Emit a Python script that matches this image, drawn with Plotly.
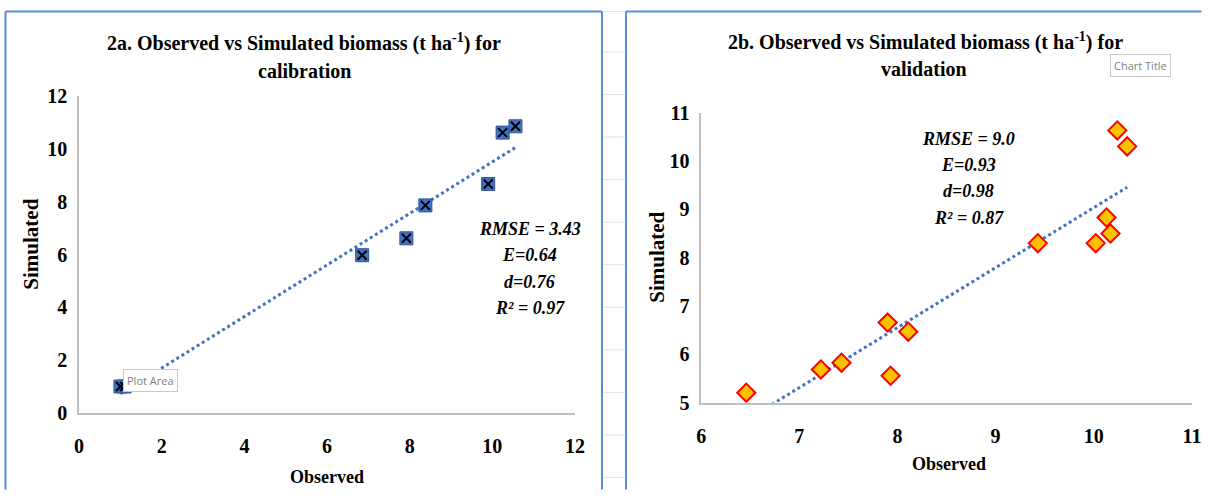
import numpy as np
import plotly.graph_objects as go

# ---- data ----
cal_observed = [1.0, 1.1, 6.85, 7.92, 8.38, 9.9, 10.25, 10.56]
cal_simulated = [1.0, 1.0, 5.98, 6.62, 7.87, 8.68, 10.63, 10.87]

val_observed = [6.46, 7.22, 7.43, 7.90, 7.93, 8.11, 9.43, 10.02, 10.13, 10.17, 10.24, 10.34]
val_simulated = [5.21, 5.69, 5.83, 6.66, 5.56, 6.47, 8.30, 8.30, 8.83, 8.50, 10.63, 10.30]

cal_stats = ["RMSE = 3.43", "E=0.64", "d=0.76", "R² = 0.97"]
val_stats = ["RMSE = 9.0", "E=0.93", "d=0.98", "R² = 0.87"]

cal_ticks = [0, 2, 4, 6, 8, 10, 12]
val_xticks = [6, 7, 8, 9, 10, 11]
val_yticks = [5, 6, 7, 8, 9, 10, 11]

W, H = 1212, 501
# empirical mapping from target picture pixels to figure pixels
SX, OXP, SY, OYP = 0.986, 6.0, 0.955, 11.6
SERIF = "Liberation Serif, Times New Roman, serif"
BLUE = "#4472c4"

def fx(X):
    return min(max((X - OXP) / SX, 0.5), W - 0.5)

def fy(Y):
    return min(max((Y - OYP) / SY, 0.5), H - 0.5)

def px(X):
    return fx(X) / W

def py(Y):
    return 1 - fy(Y) / H

fig = go.Figure()

# trendlines (least squares)
def trend(xs, ys):
    m, b = np.polyfit(xs, ys, 1)
    xx = np.array([min(xs), max(xs)])
    return xx, m * xx + b

tx, ty = trend(cal_observed, cal_simulated)
fig.add_trace(go.Scatter(x=tx, y=ty, mode="lines", xaxis="x", yaxis="y",
                         line=dict(color=BLUE, width=3, dash="dot"), showlegend=False))
tx2, ty2 = trend(val_observed, val_simulated)
fig.add_trace(go.Scatter(x=tx2, y=ty2, mode="lines", xaxis="x2", yaxis="y2",
                         line=dict(color=BLUE, width=3, dash="dot"), showlegend=False))

# calibration markers: blue square with black x
fig.add_trace(go.Scatter(x=cal_observed, y=cal_simulated, mode="markers", xaxis="x", yaxis="y",
                         marker=dict(symbol="square", size=13, color=BLUE,
                                     line=dict(color="#2f5597", width=1)),
                         showlegend=False))
fig.add_trace(go.Scatter(x=cal_observed, y=cal_simulated, mode="markers", xaxis="x", yaxis="y",
                         marker=dict(symbol="x-thin", size=9, color="black",
                                     line=dict(color="black", width=2)),
                         showlegend=False))

# validation markers: gold diamonds with red edge
fig.add_trace(go.Scatter(x=val_observed, y=val_simulated, mode="markers", xaxis="x2", yaxis="y2",
                         marker=dict(symbol="diamond", size=14, color="#ffc000",
                                     line=dict(color="#ff0000", width=2)),
                         showlegend=False))

axis_common = dict(showgrid=False, zeroline=False, showline=True, linecolor="#bfbfbf",
                   linewidth=1.5, ticks="", fixedrange=True,
                   tickfont=dict(family=SERIF, size=20, color="black", weight="bold"))

fig.update_layout(
    width=W, height=H,
    margin=dict(l=0, r=0, t=0, b=0),
    paper_bgcolor="white", plot_bgcolor="rgba(0,0,0,0)",
    xaxis=dict(domain=[px(80), px(575)], range=[0, 12], tickvals=cal_ticks,
               anchor="y", ticklabelstandoff=14, **axis_common),
    yaxis=dict(domain=[py(413), py(97)], range=[0, 12], tickvals=cal_ticks,
               anchor="x", ticklabelstandoff=6, **axis_common),
    xaxis2=dict(domain=[px(701), px(1191)], range=[6, 11], tickvals=val_xticks,
                anchor="y2", ticklabelstandoff=14, **axis_common),
    yaxis2=dict(domain=[py(403), py(113)], range=[5, 11], tickvals=val_yticks,
                anchor="x2", ticklabelstandoff=6, **axis_common),
)

shapes = []
# faint spreadsheet gridlines in the background (only visible outside the chart boxes)
for gx in np.arange(1.5, 1212, 80.6):
    shapes.append(dict(type="line", xref="paper", yref="paper", x0=px(gx), x1=px(gx), y0=0, y1=1,
                       line=dict(color="#e3e3e3", width=1), layer="below"))
for gy in np.arange(10, 501, 42.5):
    shapes.append(dict(type="line", xref="paper", yref="paper", x0=0, x1=1, y0=py(gy), y1=py(gy),
                       line=dict(color="#e3e3e3", width=1), layer="below"))
# chart area boxes (white fill, blue frame)
shapes.append(dict(type="rect", xref="paper", yref="paper", x0=px(4), x1=px(602), y0=0, y1=py(5),
                   fillcolor="white", line=dict(width=0), layer="below"))
shapes.append(dict(type="rect", xref="paper", yref="paper", x0=px(626), x1=1, y0=0, y1=py(3),
                   fillcolor="white", line=dict(width=0), layer="below"))
frame = dict(color="#5b8bd9", width=2)
for (x0, y0, x1, y1) in [(4, 5, 602, 5), (4, 5, 4, 520), (602, 5, 602, 520),
                         (626, 3, 1230, 3), (626, 3, 626, 520)]:
    shapes.append(dict(type="line", xref="paper", yref="paper", x0=px(x0), x1=px(x1),
                       y0=py(y0), y1=py(y1), line=frame, layer="below"))
fig.update_layout(shapes=shapes)

ann = []

def add_text(x, y, text, font, **kw):
    d = dict(x=px(x), y=py(y), xref="paper", yref="paper", showarrow=False,
             xanchor="center", yanchor="middle", text=text, font=font)
    d.update(kw)
    ann.append(d)

title_font = dict(family=SERIF, size=20, color="black", weight="bold")
add_text(305, 43, "2a. Observed vs Simulated biomass (t ha<sup>-1</sup>) for", title_font)
add_text(305, 72, "calibration", title_font)
add_text(925, 42, "2b. Observed vs Simulated biomass (t ha<sup>-1</sup>) for", title_font)
add_text(923, 70, "validation", title_font)

axis_title_font = dict(family=SERIF, size=18, color="black", weight="bold")
ytitle_font = dict(family=SERIF, size=21, color="black", weight="bold")
add_text(327, 477, "Observed", axis_title_font)
add_text(948, 464, "Observed", axis_title_font)
add_text(32, 245, "Simulated", ytitle_font, textangle=-90)
add_text(657, 258, "Simulated", ytitle_font, textangle=-90)

stat_font = dict(family=SERIF, size=18, color="black", weight="bold", style="italic")
for i, s in enumerate(cal_stats):
    add_text(530, 229 + i * 26.5, s, stat_font)
for i, s in enumerate(val_stats):
    add_text(968, 139 + i * 26.3, s, stat_font)

tip_font = dict(family="Open Sans, sans-serif", size=11, color="#7f7f7f")
add_text(151, 381, "Plot Area", tip_font, bgcolor="white", bordercolor="#c8c8c8",
         borderwidth=1, borderpad=3)
add_text(1140, 66, "Chart Title", tip_font, bgcolor="white", bordercolor="#c8c8c8",
         borderwidth=1, borderpad=3)
fig.update_layout(annotations=ann)

fig.write_html("out.html", config={"displayModeBar": False},
               post_script="document.body.style.margin='0';document.body.style.overflow='hidden';")
